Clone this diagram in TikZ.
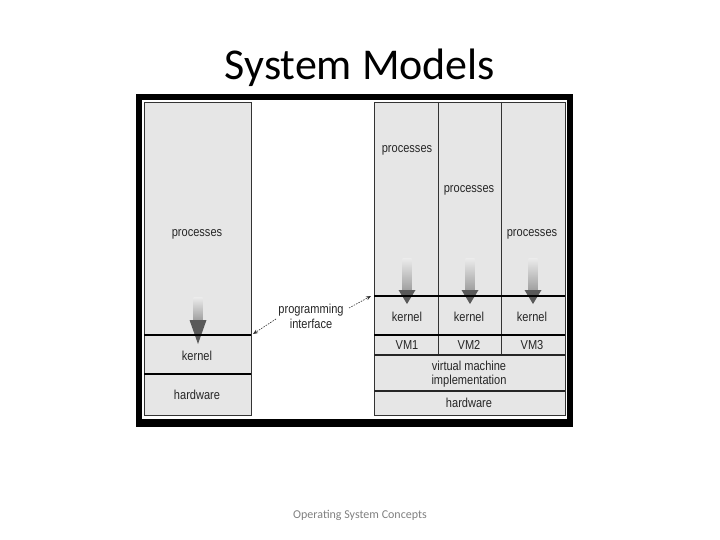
\documentclass[tikz,border=0pt]{standalone}
\usepackage{fontspec}
\setmainfont{Carlito}
\newfontfamily\diagfont{Liberation Sans}
\usetikzlibrary{arrows.meta}
\definecolor{boxgray}{HTML}{E6E6E6}
\newcommand{\nt}[1]{\scalebox{0.85}[1]{#1}}
\tikzset{
  lbl/.style={font=\diagfont\fontsize{13}{14}\selectfont, inner sep=0pt, text=black!85},
  thin line/.style={draw=black!80, line width=0.8pt},
  thick line/.style={draw=black, line width=2pt},
  pi arrow/.style={draw=black!80, line width=0.6pt, dash pattern=on 1.5pt off 1.2pt, -{Stealth[length=5pt,width=4pt]}}
}
\newcommand{\downarrowshape}[4]{% cx, top, shaftbottom, tip
  \shade[top color=gray!15, bottom color=gray!75] (#1-4.5,#2) rectangle (#1+4.5,#3);
  \fill[gray!70!black] (#1-8.5,#3) -- (#1+8.5,#3) -- (#1,#4) -- cycle;
}
\begin{document}
\begin{tikzpicture}[x=1pt,y=-1pt]
\useasboundingbox (0,0) rectangle (720,540);
% title and footer
\node[font=\fontsize{44}{50}\selectfont] (title) at (360,68) {System Models};
\node[font=\fontsize{12}{14}\selectfont, text=gray] (footer) at (360,515) {Operating System Concepts};
% frame
\fill[black] (136,94) rectangle (573,427);
\fill[white] (142,100) rectangle (567,419);
% left stack
\fill[boxgray] (144,102) rectangle (251,415);
\draw[thin line] (144,102) rectangle (251,415);
\downarrowshape{198}{297}{320}{344}
\draw[thick line] (144,335) -- (251,335);
\draw[thick line] (144,374) -- (251,374);
\node[lbl] (lproc) at (197,234) {\nt{processes}};
\node[lbl] (lkern) at (197,356) {\nt{kernel}};
\node[lbl] (lhw) at (197,395) {\nt{hardware}};
% right stack
\fill[boxgray] (374,102) rectangle (565,415);
\draw[thin line] (374,102) rectangle (565,415);
\draw[thin line] (438,102) -- (438,355);
\draw[thin line] (501,102) -- (501,355);
\downarrowshape{407}{258}{290}{304}
\downarrowshape{470}{258}{290}{304}
\downarrowshape{533}{258}{290}{304}
\draw[thick line] (374,296) -- (565,296);
\draw[thick line] (374,335) -- (565,335);
\draw[draw=black!85, line width=1.2pt] (374,355) -- (565,355);
\draw[draw=black!85, line width=1.5pt] (374,391) -- (565,391);
\node[lbl] (p1) at (407,150) {\nt{processes}};
\node[lbl] (p2) at (469,190) {\nt{processes}};
\node[lbl] (p3) at (532,234) {\nt{processes}};
\node[lbl] (k1) at (407,317) {\nt{kernel}};
\node[lbl] (k2) at (469,317) {\nt{kernel}};
\node[lbl] (k3) at (532,317) {\nt{kernel}};
\node[lbl] (vm1) at (407,345) {\nt{VM1}};
\node[lbl] (vm2) at (469,345) {\nt{VM2}};
\node[lbl] (vm3) at (532,345) {\nt{VM3}};
\node[lbl, align=center] (vmi) at (469,374) {\nt{virtual machine}\\[0pt]\nt{implementation}};
\node[lbl] (rhw) at (469,403) {\nt{hardware}};
% programming interface
\node[lbl, align=center] (pi) at (311,316) {\nt{programming}\\[1pt]\nt{interface}};
\coordinate (lend) at (253,334);
\coordinate (rend) at (371,296);
\draw[pi arrow] (276,319) -- (lend);
\draw[pi arrow] (349,308) -- (rend);
\end{tikzpicture}
\end{document}
